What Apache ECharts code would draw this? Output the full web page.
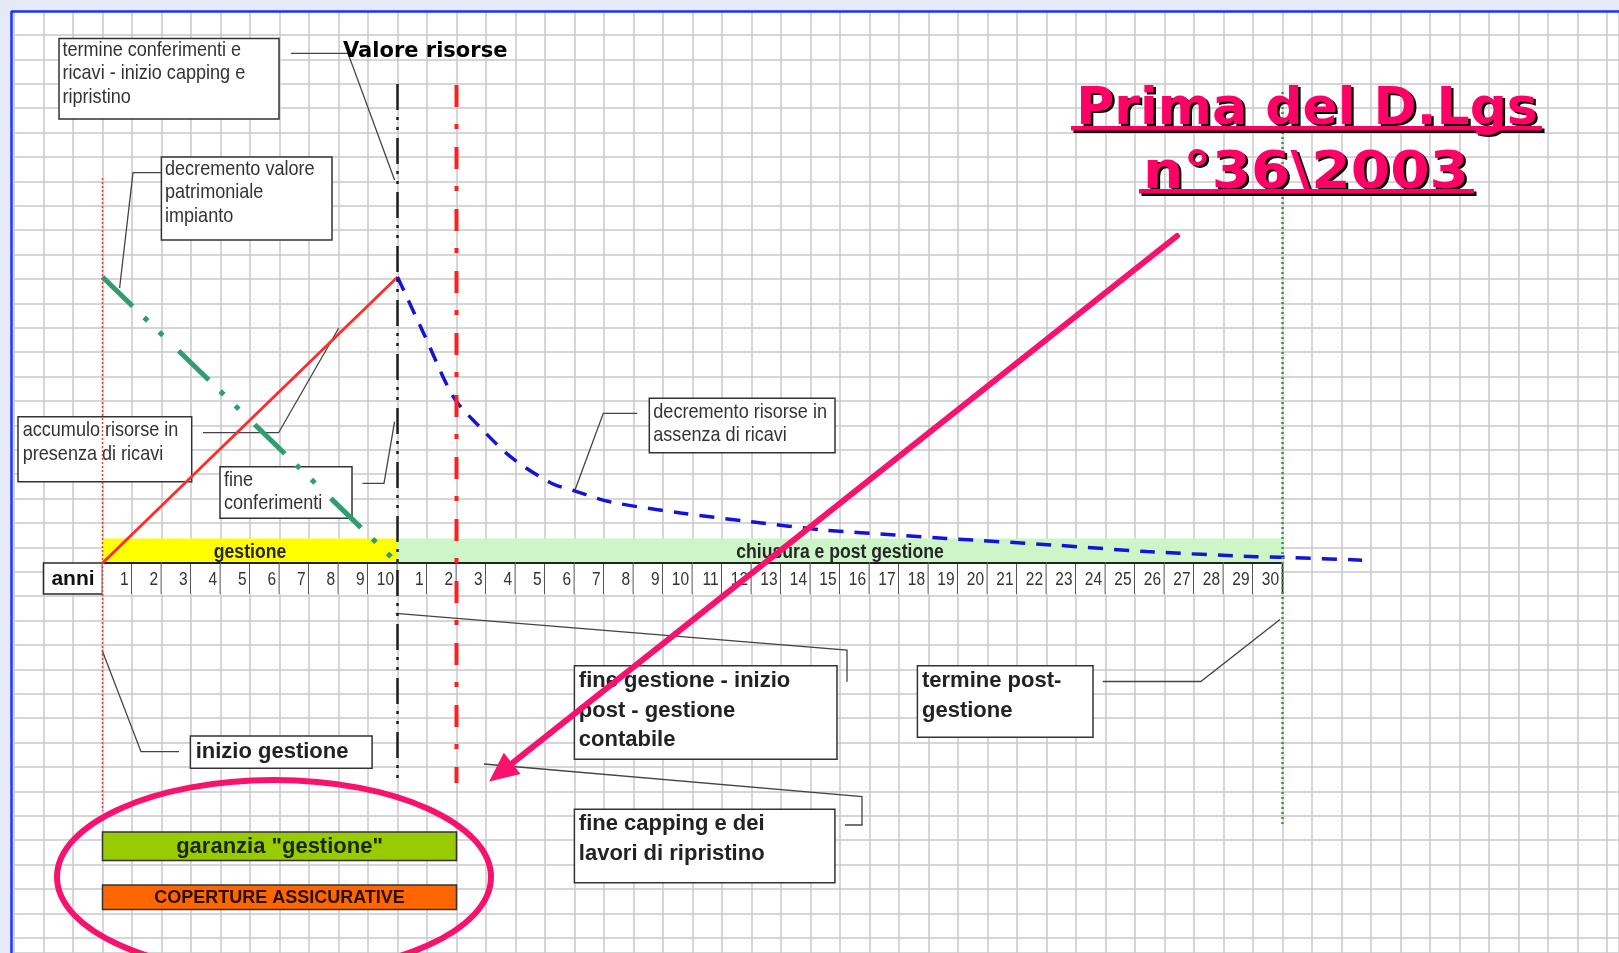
<!DOCTYPE html>
<html>
<head>
<meta charset="utf-8">
<script src="https://cdn.jsdelivr.net/npm/echarts@6/dist/echarts.min.js"></script>
<style>
html,body{margin:0;padding:0;background:#e4ebf6;}
#c{width:1619px;height:953px;}
</style>
</head>
<body>
<div id="c"></div>
<script>
// ---------------- DATA ----------------
const tableHeader = 'anni';
const gestioneYears = ['1','2','3','4','5','6','7','8','9','10'];
const postGestioneYears = ['1','2','3','4','5','6','7','8','9','10','11','12','13','14','15','16','17','18','19','20','21','22','23','24','25','26','27','28','29','30'];
const phaseNames = ['gestione', 'chiusura e post gestione'];
const phaseStart = [0, 10];
const phaseEnd = [10, 40];
// year index (0 = inizio gestione) vs valore risorse (100 = peak)
const accumuloRisorse = [[0, 0], [10, 100]];
const valorePatrimoniale = [[0, 100], [10, 0]];
const decrementoRisorse = [[10,100],[10.9,80],[11.9,58],[12.75,48],[13.85,37],[15.2,28],[16,25.2],[17.2,21.4],[19.6,17.5],[22,14.4],[24.5,11.5],[26.9,9.8],[28.6,8.6],[32.2,6.3],[35.4,4.0],[39.1,2.2],[40,2.0],[42.7,1.0]];
const eventNames = ['inizio gestione', 'fine gestione', 'fine capping', 'termine post-gestione'];
const eventYears = [0, 10, 12, 40];
const garanzieNames = ['garanzia "gestione"', 'COPERTURE ASSICURATIVE'];
const garanzieStart = [0, 0];
const garanzieEnd = [12, 12];

// ---------------- LAYOUT ----------------
const W = 1619, H = 953;
const X0PX = 14, CELL = 29.5, XMIN = -3;
const XMAX = XMIN + (W - X0PX) / CELL;
const TOP = 10.6, ROW = 24.4;
const ROWMAX = (H - TOP) / ROW;
const V0Y = 563, VPX = 2.86;
const VMIN = -(H - V0Y) / VPX, VMAX = (V0Y - TOP) / VPX;
const L = {
  bandTop: 538.5, tableTop: 563, tableBottom: 594, anniStart: -2,
  evtTop: [178, 84, 85, 92], evtBottom: [811, 783, 783, 826],
  garTop: [832, 885], garBottom: [860.5, 909.5]
};
const ARIAL = "'Liberation Sans',Arial,sans-serif";
const VERD = "'DejaVu Sans',Verdana,sans-serif";
const NSX = 0.86; // horizontal condensing for the narrow face
const GRIDC = '#c9c9c9';
const PHASE_COLORS = ['#ffff00', '#ccf5c8'];
const GAR_COLORS = ['#99cc00', '#ff6600'];
const GAR_FONTS = ['bold 22px ' + ARIAL, 'bold 18px ' + ARIAL];
const GAR_TEXT = ['#1c2600', '#2a1000'];
const EVT_STYLE = [
  {stroke:'#ee3a3a', lineWidth:1.5, lineDash:[2,2]},
  {stroke:'#1e1e1e', lineWidth:2.5, lineDash:[26,7,3,7,3,8]},
  {stroke:'#ff1f1f', lineWidth:4, lineDash:[22,17,5,18]},
  {stroke:'#3a9a3a', lineWidth:2.5, lineDash:[2,3]}
];
const PINK = '#ff0066', PINK2 = '#f7136d';

const yearLabels = gestioneYears.concat(postGestioneYears);

function T(text, x, y, font, fill, align, lh, z, sx) {
  return {type:'text', z: z || 3, x, y, scaleX: sx || 1,
    style:{text, x:0, y:0, font, fill, align: align || 'left', textAlign: align || 'left',
    verticalAlign:'middle', textVerticalAlign:'middle', lineHeight: lh || undefined}};
}
function box(x, y, w, h) {
  return {type:'rect', z:2, shape:{x, y, width:w, height:h}, style:{fill:'#fff', stroke:'#333', lineWidth:1.5}};
}
function conn(points) {
  return {type:'polyline', z:2, shape:{points}, style:{stroke:'#444', lineWidth:1.3, fill:null}};
}
function ctext(text, x, y, font, fill, align, sx) {
  return {type:'text', x, y, scaleX: sx || 1, style:{text, x:0, y:0, align, textAlign:align,
    verticalAlign:'middle', textVerticalAlign:'middle', font, fill}};
}
const F_SMALL = '21px ' + ARIAL;
const F_BIG = 'bold 22px ' + ARIAL;

const graphics = [
  {type:'rect', z:-100, shape:{x:11, y:11, width:W, height:H}, style:{fill:'#ffffff'}},
  {type:'line', z:30, shape:{x1:11, y1:11.5, x2:W, y2:11.5}, style:{stroke:'#1a33ff', lineWidth:2.5}},
  {type:'line', z:30, shape:{x1:11.5, y1:11, x2:11.5, y2:H}, style:{stroke:'#1a33ff', lineWidth:2.5}},
  // annotation boxes
  box(59, 38.5, 220, 80.5), T('termine conferimenti e\nricavi - inizio capping e\nripristino', 62.5, 73.7, F_SMALL, '#333', 'left', 23.5, 3, NSX),
  box(161.4, 157, 170.6, 83), T('decremento valore\npatrimoniale\nimpianto', 165, 192.4, F_SMALL, '#333', 'left', 23.4, 3, NSX),
  box(18, 416.7, 173.7, 65), T('accumulo risorse in\npresenza di ricavi', 22.7, 442, F_SMALL, '#333', 'left', 24, 3, NSX),
  box(220, 466.7, 132, 51.6), T('fine\nconferimenti', 224, 491.5, F_SMALL, '#333', 'left', 23.5, 3, NSX),
  box(649.3, 398.3, 185.7, 54.4), T('decremento risorse in\nassenza di ricavi', 653.3, 423.7, F_SMALL, '#333', 'left', 23, 3, NSX),
  box(574.4, 665.7, 262.6, 93.6), T('fine gestione - inizio\npost - gestione\ncontabile', 578.8, 710.7, F_BIG, '#222', 'left', 29.5),
  box(917.4, 665.7, 175.6, 71.6), T('termine post-\ngestione', 922, 696, F_BIG, '#222', 'left', 29.5),
  box(574.4, 809.3, 260.5, 73.4), T('fine capping e dei\nlavori di ripristino', 578.8, 838.7, F_BIG, '#222', 'left', 29.5),
  box(190.4, 736, 181.7, 32.3), T('inizio gestione', 195.7, 751.7, F_BIG, '#222', 'left'),
  // connectors
  conn([[291,53.3],[348,53.3],[394.6,180]]),
  conn([[161,172.7],[133,172.7],[119.6,288]]),
  conn([[203,432.7],[278.6,432.7],[338.6,328.3]]),
  conn([[362.5,483.3],[384,483.3],[394.6,421.7]]),
  conn([[637.3,413.3],[603.3,413.3],[575,490]]),
  conn([[395.7,613.3],[847,650],[847,681.7]]),
  conn([[1102.7,681.5],[1200.8,681.5],[1280,619.5]]),
  conn([[484,764],[862,796.7],[862,825],[845,825]]),
  conn([[102,650],[141,751.7],[179,751.7]]),
  // axis title
  T('Valore risorse', 343, 52, 'bold 21px ' + VERD, '#000', 'left', null, 3),
  // main title with hard shadow
  T('Prima del D.Lgs', 1309.5, 112.5, 'bold 52px ' + VERD, '#000', 'center', null, 20),
  T('Prima del D.Lgs', 1307, 110, 'bold 52px ' + VERD, PINK, 'center', null, 21),
  T('n°36\\2003', 1308.5, 176.5, 'bold 52px ' + VERD, '#000', 'center', null, 20, 1.09),
  T('n°36\\2003', 1306, 174, 'bold 52px ' + VERD, PINK, 'center', null, 21, 1.09),
  {type:'rect', z:20, shape:{x:1073.5, y:128.5, width:471, height:4.5}, style:{fill:'#000'}},
  {type:'rect', z:21, shape:{x:1071, y:126, width:471, height:4.5}, style:{fill:PINK}},
  {type:'rect', z:20, shape:{x:1141.5, y:191.5, width:335, height:4.5}, style:{fill:'#000'}},
  {type:'rect', z:21, shape:{x:1139, y:189, width:335, height:4.5}, style:{fill:PINK}},
  // arrow and ellipse
  {type:'line', z:22, shape:{x1:1177, y1:236, x2:511.4, y2:763.9}, style:{stroke:PINK2, lineWidth:6, lineCap:'round'}},
  {type:'polygon', z:22, shape:{points:[[491,780],[518.8,773.3],[504,754.5]]}, style:{fill:PINK2, stroke:PINK2, lineWidth:2}},
  {type:'ellipse', z:22, shape:{cx:274, cy:877, rx:217, ry:97}, style:{fill:null, stroke:PINK2, lineWidth:6}}
];

const hiddenAxis = {axisLine:{show:false}, axisTick:{show:false}, axisLabel:{show:false}};

const option = {
  backgroundColor: '#e4ebf6',
  animation: false,
  grid: {left: X0PX, top: TOP, right: 0, bottom: 0},
  xAxis: Object.assign({type:'value', min:XMIN, max:XMAX, interval:1,
    splitLine:{show:true, lineStyle:{color:GRIDC, width:1.5}}}, hiddenAxis),
  yAxis: [
    Object.assign({type:'value', inverse:true, min:0, max:ROWMAX, interval:1,
      splitLine:{show:true, lineStyle:{color:GRIDC, width:1.5}}}, hiddenAxis),
    {type:'value', min:VMIN, max:VMAX, show:false, splitLine:{show:false}},
    {type:'value', inverse:true, min:TOP, max:H, show:false, splitLine:{show:false}}
  ],
  graphic: {elements: graphics},
  series: [
    { // phases bands
      type:'custom', name:'fasi', xAxisIndex:0, yAxisIndex:2, z:3, silent:true,
      data: phaseNames.map((n, i) => [phaseStart[i], phaseEnd[i], i]),
      renderItem(params, api) {
        const i = api.value(2);
        const a = api.coord([api.value(0), L.bandTop]);
        const b = api.coord([api.value(1), L.tableTop]);
        return {type:'group', children:[
          {type:'rect', shape:{x:a[0], y:a[1], width:b[0]-a[0], height:b[1]-a[1]}, style:{fill:PHASE_COLORS[i]}},
          ctext(phaseNames[i], (a[0]+b[0])/2, (a[1]+b[1])/2 + 1.5, 'bold 20px ' + ARIAL, '#262626', 'center', 0.88)
        ]};
      }
    },
    { // table header
      type:'custom', name:'anni', xAxisIndex:0, yAxisIndex:2, z:4, silent:true,
      data: [[L.anniStart, 0]],
      renderItem(params, api) {
        const a = api.coord([api.value(0), L.tableTop]);
        const b = api.coord([api.value(1), L.tableBottom]);
        return {type:'group', children:[
          {type:'rect', shape:{x:a[0], y:a[1], width:b[0]-a[0], height:b[1]-a[1]}, style:{fill:'#fff', stroke:'#2a2a2a', lineWidth:1.6}},
          ctext(tableHeader, (a[0]+b[0])/2, (a[1]+b[1])/2 + 1, 'bold 21px ' + ARIAL, '#111', 'center', 1)
        ]};
      }
    },
    { // table year cells
      type:'custom', name:'anni', xAxisIndex:0, yAxisIndex:2, z:4, silent:true,
      data: yearLabels.map((l, i) => [i, i + 1, i]),
      renderItem(params, api) {
        const i = api.value(2);
        const a = api.coord([api.value(0), L.tableTop]);
        const b = api.coord([api.value(1), L.tableBottom]);
        return {type:'group', children:[
          {type:'rect', shape:{x:a[0], y:a[1], width:b[0]-a[0], height:b[1]-a[1]}, style:{fill:'#fff'}},
          {type:'line', shape:{x1:b[0], y1:a[1], x2:b[0], y2:b[1]}, style:{stroke:'#2a2a2a', lineWidth:1.6}},
          {type:'line', shape:{x1:a[0], y1:a[1], x2:b[0], y2:a[1]}, style:{stroke:'#222', lineWidth:2}},
          ctext(yearLabels[i], b[0] - 3.5, (a[1]+b[1])/2 + 2, '18px ' + ARIAL, '#333', 'right', NSX)
        ]};
      }
    },
    { // guarantee bars
      type:'custom', name:'garanzie', xAxisIndex:0, yAxisIndex:2, z:4, silent:true,
      data: garanzieNames.map((n, i) => [garanzieStart[i], garanzieEnd[i], i]),
      renderItem(params, api) {
        const i = api.value(2);
        const a = api.coord([api.value(0), L.garTop[i]]);
        const b = api.coord([api.value(1), L.garBottom[i]]);
        return {type:'group', children:[
          {type:'rect', shape:{x:a[0], y:a[1], width:b[0]-a[0], height:b[1]-a[1]}, style:{fill:GAR_COLORS[i], stroke:'#333', lineWidth:1.5}},
          ctext(garanzieNames[i], (a[0]+b[0])/2, (a[1]+b[1])/2 + 1, GAR_FONTS[i], GAR_TEXT[i], 'center', 1)
        ]};
      }
    },
    { // accumulo risorse
      type:'line', name:'accumulo risorse in presenza di ricavi', xAxisIndex:0, yAxisIndex:1, z:6,
      data: accumuloRisorse, showSymbol:false, silent:true,
      lineStyle:{color:'#ff2b2b', width:2.8}
    },
    { // valore patrimoniale
      type:'line', name:'decremento valore patrimoniale impianto', xAxisIndex:0, yAxisIndex:1, z:6,
      data: valorePatrimoniale, showSymbol:false, silent:true,
      lineStyle:{color:'#2f9d6d', width:5, type:[42,16,5,16,5,22], cap:'butt'}
    },
    { // decremento risorse
      type:'line', name:'decremento risorse in assenza di ricavi', xAxisIndex:0, yAxisIndex:1, z:6,
      data: decrementoRisorse, showSymbol:false, silent:true, smooth:0.3,
      lineStyle:{color:'#1414d8', width:3.5, type:[15,11]}
    },
    { // event vertical lines
      type:'custom', name:'eventi', xAxisIndex:0, yAxisIndex:2, z:7, silent:true,
      data: eventYears.map((x, i) => [x, i]),
      renderItem(params, api) {
        const i = api.value(1);
        const a = api.coord([api.value(0), L.evtTop[i]]);
        const b = api.coord([api.value(0), L.evtBottom[i]]);
        return {type:'line', shape:{x1:a[0], y1:a[1], x2:b[0], y2:b[1]}, style:Object.assign({fill:null}, EVT_STYLE[i])};
      }
    }
  ]
};

const chart = echarts.init(document.getElementById('c'), null, {width: W, height: H});
chart.setOption(option);
</script>
</body>
</html>
